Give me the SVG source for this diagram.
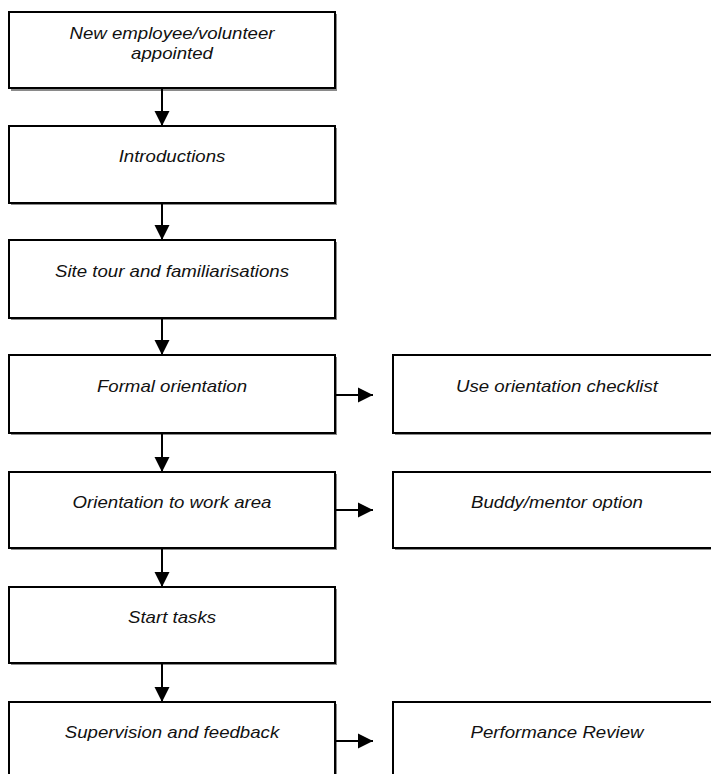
<svg xmlns="http://www.w3.org/2000/svg" width="711" height="774" viewBox="0 0 711 774">
<style>
.sh{fill:#8a8a8a;stroke:none}
.bx{fill:#fff;stroke:#000;stroke-width:2}
.t{font-family:"Liberation Sans",Arial,sans-serif;font-style:italic;font-size:16.5px;fill:#111;text-anchor:middle}
.ln{stroke:#000;stroke-width:2;fill:none}
</style>
<defs>
<marker id="ah" markerUnits="userSpaceOnUse" markerWidth="16" markerHeight="16" refX="15" refY="8" orient="auto">
<path d="M0,0.5 L15,8 L0,15.5 Z" fill="#000"/>
</marker>
</defs>
<rect width="711" height="774" fill="#fff"/>
<g id="n1"><rect class="sh" x="11" y="14" width="326" height="77"/><rect class="bx" x="9" y="12" width="326" height="76"/>
<text class="t" transform="translate(172,39) scale(1.13,1)">New employee/volunteer</text>
<text class="t" transform="translate(172,59) scale(1.13,1)">appointed</text></g>
<g id="n2"><rect class="sh" x="11" y="128" width="326" height="77"/><rect class="bx" x="9" y="126" width="326" height="77"/>
<text class="t" transform="translate(172,162) scale(1.13,1)">Introductions</text></g>
<g id="n3"><rect class="sh" x="11" y="242" width="326" height="78"/><rect class="bx" x="9" y="240" width="326" height="78"/>
<text class="t" transform="translate(172,277) scale(1.13,1)">Site tour and familiarisations</text></g>
<g id="n4"><rect class="sh" x="11" y="357" width="326" height="78"/><rect class="bx" x="9" y="355" width="326" height="78"/>
<text class="t" transform="translate(172,392) scale(1.13,1)">Formal orientation</text></g>
<g id="n5"><rect class="sh" x="11" y="474" width="326" height="76"/><rect class="bx" x="9" y="472" width="326" height="76"/>
<text class="t" transform="translate(172,508) scale(1.13,1)">Orientation to work area</text></g>
<g id="n6"><rect class="sh" x="11" y="589" width="326" height="76"/><rect class="bx" x="9" y="587" width="326" height="76"/>
<text class="t" transform="translate(172,623) scale(1.13,1)">Start tasks</text></g>
<g id="n7"><rect class="sh" x="11" y="704" width="326" height="90"/><rect class="bx" x="9" y="702" width="326" height="90"/>
<text class="t" transform="translate(172,738) scale(1.13,1)">Supervision and feedback</text></g>
<g id="r1"><rect class="sh" x="395" y="357" width="330" height="78"/><rect class="bx" x="393" y="355" width="330" height="78"/>
<text class="t" transform="translate(557,392) scale(1.13,1)">Use orientation checklist</text></g>
<g id="r2"><rect class="sh" x="395" y="474" width="330" height="76"/><rect class="bx" x="393" y="472" width="330" height="76"/>
<text class="t" transform="translate(557,508) scale(1.13,1)">Buddy/mentor option</text></g>
<g id="r3"><rect class="sh" x="395" y="704" width="330" height="90"/><rect class="bx" x="393" y="702" width="330" height="90"/>
<text class="t" transform="translate(557,738) scale(1.13,1)">Performance Review</text></g>
<g id="connectors">
<line class="ln" x1="162" y1="89" x2="162" y2="126" marker-end="url(#ah)"/>
<line class="ln" x1="162" y1="204" x2="162" y2="240" marker-end="url(#ah)"/>
<line class="ln" x1="162" y1="319" x2="162" y2="355" marker-end="url(#ah)"/>
<line class="ln" x1="162" y1="434" x2="162" y2="472" marker-end="url(#ah)"/>
<line class="ln" x1="162" y1="549" x2="162" y2="587" marker-end="url(#ah)"/>
<line class="ln" x1="162" y1="664" x2="162" y2="702" marker-end="url(#ah)"/>
<line class="ln" x1="336" y1="395" x2="373" y2="395" marker-end="url(#ah)"/>
<line class="ln" x1="336" y1="510" x2="373" y2="510" marker-end="url(#ah)"/>
<line class="ln" x1="336" y1="741" x2="373" y2="741" marker-end="url(#ah)"/>
</g>
</svg>
